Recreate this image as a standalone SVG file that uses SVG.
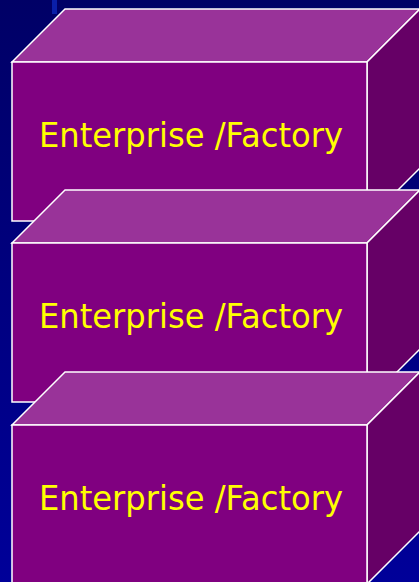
<svg xmlns="http://www.w3.org/2000/svg" width="419" height="582" viewBox="0 0 419 582">
<defs>
<linearGradient id="bg" x1="0" y1="0" x2="0" y2="1">
<stop offset="0" stop-color="#000066"/>
<stop offset="1" stop-color="#000099"/>
</linearGradient>
<g id="box">
<path class="top" d="M12,62 L65,9 L420,9 L367,62 Z"/>
<path class="side" d="M367,62 L420,9 L420,168 L367,221 Z"/>
<rect class="front" x="12" y="62" width="355" height="159"/>
</g>
</defs>
<style>
.top{fill:#993399;stroke:#ffffff;stroke-width:1.5;stroke-linejoin:miter}
.side{fill:#660066;stroke:#ffffff;stroke-width:1.5}
.front{fill:#800080;stroke:#ffffff;stroke-width:1.5}
.lbl{font-family:"DejaVu Sans","Liberation Sans",sans-serif;font-size:33px;fill:#ffff00;text-anchor:middle}
</style>
<rect x="0" y="0" width="419" height="582" fill="url(#bg)"/>
<rect x="52" y="0" width="5" height="14" fill="#0a1fa8"/>
<g id="connectors"/>
<g id="node1">
<use href="#box"/>
<text class="lbl" x="191" y="147" textLength="304" lengthAdjust="spacingAndGlyphs">Enterprise /Factory</text>
</g>
<g id="node2" transform="translate(0,181)">
<use href="#box"/>
<text class="lbl" x="191" y="147" textLength="304" lengthAdjust="spacingAndGlyphs">Enterprise /Factory</text>
</g>
<g id="node3" transform="translate(0,363)">
<use href="#box"/>
<text class="lbl" x="191" y="147" textLength="304" lengthAdjust="spacingAndGlyphs">Enterprise /Factory</text>
</g>
</svg>
